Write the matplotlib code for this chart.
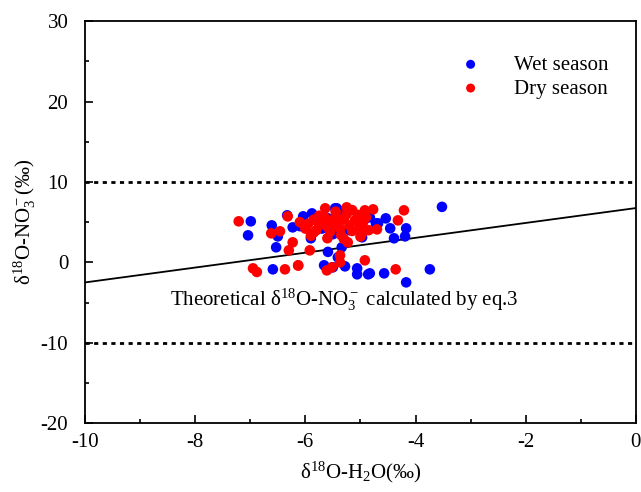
import numpy as np
import matplotlib
matplotlib.use("Agg")
import matplotlib.pyplot as plt
from matplotlib.ticker import MultipleLocator

plt.rcParams['font.family'] = ['Liberation Serif', 'DejaVu Serif']
plt.rcParams['mathtext.fontset'] = 'custom'
plt.rcParams['mathtext.rm'] = 'Liberation Serif'
plt.rcParams['mathtext.it'] = 'Liberation Serif:italic'
plt.rcParams['axes.unicode_minus'] = False

# wet season (blue)
wet_x = [-6.99, -7.04, -6.61, -6.50, -6.53, -6.33, -6.23, -6.04, -5.88, -5.90,
         -5.43, -4.54, -4.46, -4.17, -4.19, -4.39, -4.72, -3.52, -3.74, -4.17,
         -4.57, -4.83, -4.86, -5.06, -5.06, -5.28, -5.41, -5.46, -5.50, -5.66,
         -5.59, -5.34, -6.59, -4.83, -4.68, -4.97, -5.6, -5.2, -5.0, -5.7,
         -5.3, -4.9, -6.1, -5.5]
wet_y = [5.10, 3.36, 4.60, 3.23, 1.87, 5.85, 4.35, 5.72, 6.09, 2.99,
         6.72, 5.47, 4.23, 4.23, 3.23, 2.99, 4.85, 6.9, -0.87, -2.49,
         -1.37, -1.37, -1.49, -1.49, -0.75, -0.50, 0.62, 6.72, -0.62, -0.37,
         1.30, 1.87, -0.87, 5.6, 4.85, 3.11, 5.5, 4.0, 4.6, 4.2,
         6.4, 5.5, 4.5, 3.5]

# dry season (red)
dry_x = [-7.21, -6.95, -6.88, -6.37, -6.13, -6.62, -6.46, -6.30, -6.23, -6.32,
         -5.92, -5.64, -5.25, -4.92, -4.77, -4.32, -4.21, -4.70, -4.36, -4.92,
         -5.37, -5.37, -5.52, -5.61, -6.13, -5.23, -4.97, -5.37, -5.50,
         -6.0, -5.95, -5.85, -5.8, -5.75, -5.7, -5.65, -5.6, -5.55, -5.5,
         -5.45, -5.4, -5.35, -5.3, -5.25, -5.2, -5.15, -5.1, -5.05, -5.0,
         -4.95, -4.9, -4.85, -5.9, -5.6, -5.3, -5.75, -5.45, -6.1, -5.15,
         -5.85, -5.0]
dry_y = [5.10, -0.75, -1.20, -0.87, -0.40, 3.61, 3.86, 1.49, 2.49, 5.72,
         1.49, 6.72, 6.84, 6.47, 6.59, 5.22, 6.47, 4.10, -0.87, 0.25,
         0.87, 0.0, -0.62, -1.0, -0.37, 2.49, 3.61, 4.23, 4.60,
         4.2, 4.8, 5.3, 4.0, 4.6, 5.0, 5.6, 4.4, 3.8, 5.2,
         5.8, 4.8, 3.4, 5.4, 6.0, 4.6, 3.9, 5.2, 5.9, 4.4,
         5.0, 5.6, 4.0, 3.3, 3.0, 2.9, 5.8, 6.3, 5.0, 6.5,
         3.7, 3.2]

# theoretical line (eq.3)
line_x = [-10, 0]
line_y = [-2.5, 6.75]

fig = plt.figure(figsize=(6.41, 4.92), dpi=100)
ax = fig.add_axes([0.1326, 0.140, 0.8594, 0.817])

ax.scatter(wet_x, wet_y, s=58, c='#0000ff', edgecolors='none', label='Wet season', zorder=3)
ax.scatter(dry_x, dry_y, s=58, c='#ff0000', edgecolors='none', label='Dry season', zorder=3)
ax.plot(line_x, line_y, color='black', lw=1.3, zorder=2)
ax.axhline(10, color='black', ls=(0, (1.5, 1.6)), lw=2)
ax.axhline(-10, color='black', ls=(0, (1.5, 1.6)), lw=2)

ax.text(-8.45, -4.7, 'Theoretical δ$^{18}$O-NO$_3^-$ calculated by eq.3',
        fontsize=15, va='center', ha='left')

ax.set_xlim(-10, 0)
ax.set_ylim(-20, 30)
ax.xaxis.set_major_locator(MultipleLocator(2))
ax.xaxis.set_minor_locator(MultipleLocator(1))
ax.yaxis.set_major_locator(MultipleLocator(10))
ax.yaxis.set_minor_locator(MultipleLocator(5))
ax.tick_params(which='major', direction='in', length=6, width=1.2, labelsize=15)
ax.tick_params(axis='x', which='major', pad=7)
ax.tick_params(axis='y', which='major', pad=12)
ax.tick_params(which='minor', direction='in', length=3, width=1.2)
for s in ax.spines.values():
    s.set_linewidth(1.3)

ax.set_xlabel('δ$^{18}$O-H$_2$O(‰)', fontsize=15, labelpad=6)
ax.set_ylabel('δ$^{18}$O-NO$_3^-$(‰)', fontsize=15, labelpad=2)

ax.legend(loc='upper right', bbox_to_anchor=(0.985, 0.962), frameon=False, fontsize=15,
          markerscale=0.85, handletextpad=1.1, labelspacing=0.2)

fig.savefig('out.png', dpi=100)
